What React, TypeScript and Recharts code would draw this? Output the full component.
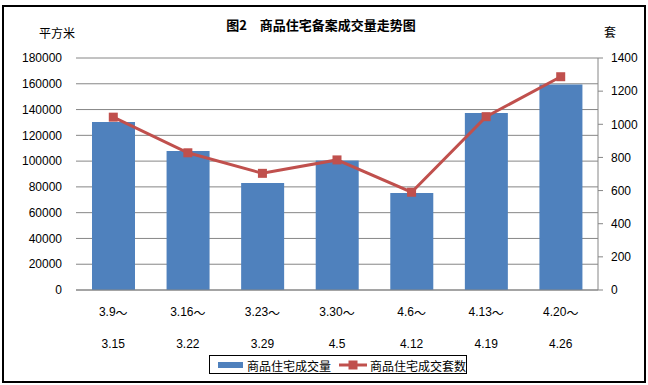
import React from "react";
import {
  ComposedChart,
  Bar,
  Line,
  XAxis,
  YAxis,
  CartesianGrid,
} from "recharts";

const periodStarts = ["3.9～", "3.16～", "3.23～", "3.30～", "4.6～", "4.13～", "4.20～"];
const periodEnds = ["3.15", "3.22", "3.29", "4.5", "4.12", "4.19", "4.26"];
const areaValues = [130300, 107800, 83000, 100500, 75200, 137300, 159500];
const unitValues = [1043, 828, 704, 785, 590, 1046, 1287];
const leftTicks = [0, 20000, 40000, 60000, 80000, 100000, 120000, 140000, 160000, 180000];
const rightTicks = [0, 200, 400, 600, 800, 1000, 1200, 1400];

const data = periodStarts.map((s, i) => ({
  name: s + "|" + periodEnds[i],
  area: areaValues[i],
  units: unitValues[i],
}));

const BAR = "#4F81BD";
const LINE = "#C0504D";
const GRID = "#868686";
const FONT = "'Liberation Sans', Arial, sans-serif";
const CJK = "'Noto Sans CJK SC', sans-serif";

const XTick = (props: any) => {
  const { x, y, payload } = props;
  const [a, b] = String(payload.value).split("|");
  const hasTilde = a.endsWith("～");
  const head = hasTilde ? a.slice(0, -1) : a;
  return (
    <g>
      <text x={x} y={y + 22} textAnchor="middle" dominantBaseline="central" fontSize={12} fontFamily={FONT} fill="#000">
        {head}
        {hasTilde ? <tspan fontFamily={CJK}>～</tspan> : null}
      </text>
      <text x={x} y={y + 54} textAnchor="middle" dominantBaseline="central" fontSize={12} fontFamily={FONT} fill="#000">
        {b}
      </text>
    </g>
  );
};

const SquareDot = (props: any) => {
  const { cx, cy, index } = props;
  if (cx == null || cy == null) return <g key={index} />;
  return <rect key={index} x={cx - 4.5} y={cy - 4.5} width={9} height={9} fill={LINE} />;
};

export default function App() {
  return (
    <div style={{ position: "absolute", left: 0, top: 0, width: 648, height: 385, background: "#fff" }}>
      <div
        style={{
          position: "absolute",
          left: 2,
          top: 5,
          width: 644,
          height: 378,
          border: "2px solid #000",
          boxSizing: "border-box",
        }}
      />
      <div
        style={{
          position: "absolute",
          left: 0,
          width: 648,
          top: 16,
          textAlign: "center",
          fontFamily: CJK,
          fontWeight: 700,
          fontSize: 13,
          lineHeight: "18px",
        }}
      >
        <span style={{ position: "relative", left: -3 }}>图2　商品住宅备案成交量走势图</span>
      </div>
      <div style={{ position: "absolute", left: 39, top: 24, fontFamily: CJK, fontSize: 12, lineHeight: "18px" }}>
        平方米
      </div>
      <div style={{ position: "absolute", left: 604, top: 23, fontFamily: CJK, fontSize: 12, lineHeight: "18px" }}>
        套
      </div>
      <ComposedChart
        width={648}
        height={385}
        data={data}
        margin={{ top: 58, right: 5, bottom: 0, left: 16 }}
        style={{ position: "absolute", left: 0, top: 0 }}
      >
        <CartesianGrid yAxisId="left" vertical={false} stroke={GRID} strokeWidth={1} />
        <XAxis
          dataKey="name"
          xAxisId={0}
          height={95}
          tick={<XTick />}
          tickLine={false}
          tickSize={0}
          tickMargin={0}
          interval={0}
          axisLine={{ stroke: GRID, strokeWidth: 1 }}
        />
        <YAxis
          yAxisId="left"
          orientation="left"
          width={60}
          domain={[0, 180000]}
          ticks={leftTicks}
          interval={0}
          axisLine={false}
          tickLine={false}
          tickSize={6}
          tickMargin={8}
          tick={{ fontSize: 12, fontFamily: FONT, fill: "#000" }}
        />
        <YAxis
          yAxisId="right"
          orientation="right"
          width={45}
          domain={[0, 1400]}
          ticks={rightTicks}
          interval={0}
          axisLine={{ stroke: GRID, strokeWidth: 1 }}
          tickLine={{ stroke: GRID, strokeWidth: 1 }}
          tickSize={5}
          tickMargin={8}
          tick={{ fontSize: 12, fontFamily: FONT, fill: "#000" }}
        />
        <Bar yAxisId="left" dataKey="area" fill={BAR} barSize={43} isAnimationActive={false} />
        <Line
          yAxisId="right"
          dataKey="units"
          stroke={LINE}
          strokeWidth={3}
          dot={<SquareDot />}
          activeDot={false}
          isAnimationActive={false}
        />
      </ComposedChart>
      <div
        style={{
          position: "absolute",
          left: 209,
          top: 355,
          width: 258,
          height: 19,
          border: "1px solid #000",
          boxSizing: "border-box",
          fontFamily: CJK,
          fontSize: 12,
          background: "#fff",
        }}
      >
        <svg width={258} height={19} style={{ position: "absolute", left: -1, top: -1 }}>
          <rect x={9} y={7} width={25} height={6} fill={BAR} />
          <text x={38} y={10} dominantBaseline="central" fontSize={12} fontFamily={CJK} fill="#000">
            商品住宅成交量
          </text>
          <line x1={130} y1={10} x2={158} y2={10} stroke={LINE} strokeWidth={3} />
          <rect x={139.5} y={5.5} width={9} height={9} fill={LINE} />
          <text x={161} y={10} dominantBaseline="central" fontSize={12} fontFamily={CJK} fill="#000">
            商品住宅成交套数
          </text>
        </svg>
      </div>
    </div>
  );
}
